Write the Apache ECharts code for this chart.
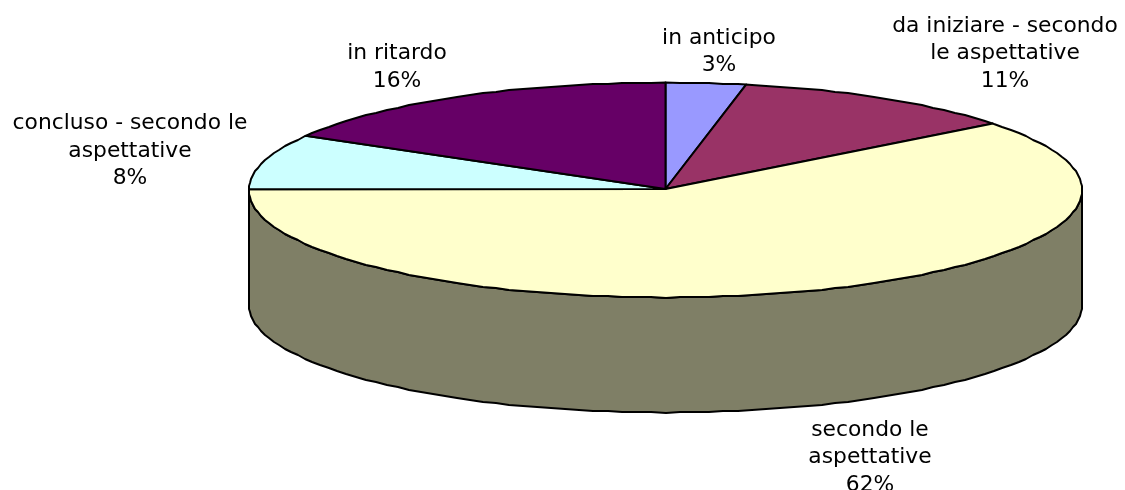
<!DOCTYPE html>
<html>
<head>
<meta charset="utf-8">
<style>html,body{margin:0;padding:0;background:#fff}#c{width:1125px;height:490px}</style>
<script src="https://cdn.jsdelivr.net/npm/echarts@6/dist/echarts.min.js"></script>
</head>
<body>
<div id="c"></div>
<script>
const categories = ['in anticipo', 'da iniziare - secondo\nle aspettative', 'secondo le\naspettative', 'concluso - secondo le\naspettative', 'in ritardo'];
const percentLabels = ['3%', '11%', '62%', '8%', '16%'];
const values = [3.1, 11.3, 60.7, 8.3, 16.6];
const colors = ['#9999FF', '#993366', '#FFFFCC', '#CCFFFF', '#660066'];
const wallColor = '#7F7F66';

const geom = { cx: 665.5, cy: 190, rx: 416.5, ry: 107.5, depth: 115 };
const labelCenters = [[719, 24.5], [1005, 12.5], [870, 416.5], [130, 110], [397, 40]];
const font = '21.8px "DejaVu Sans", Verdana, sans-serif';

const total = values.reduce((a, b) => a + b, 0);
const starts = [];
values.reduce((acc, v, i) => { starts[i] = acc; return acc + v; }, 0);
const toDeg = v => v / total * 360;
const GRID = 1;
const snap = v => Math.round(v / GRID) * GRID;
function pt(deg, dy) {
  const a = deg * Math.PI / 180;
  return [geom.cx + geom.rx * Math.sin(a), geom.cy - geom.ry * Math.cos(a) + (dy || 0)];
}
// The outline of the reference is slightly stepped, so points on the rim sit on a whole-pixel grid.
function arc(from, to, dy) {
  const out = [pt(from, dy)];
  const STEP = 2;
  let d = Math.ceil(from / STEP) * STEP;
  for (; d < to; d += STEP) {
    if (d > from) { const p = pt(d, dy); out.push([snap(p[0]), snap(p[1])]); }
  }
  out.push(pt(to, dy));
  return out;
}
const lineStyle = { stroke: '#000', lineWidth: 2, lineJoin: 'round' };

const option = {
  animation: false,
  backgroundColor: '#fff',
  series: [
    {
      type: 'custom', coordinateSystem: 'none', silent: true, z: 1,
      data: [total],
      renderItem() {
        const top = arc(90, 270);
        const bottom = arc(90, 270, geom.depth).reverse();
        return { type: 'polygon', shape: { points: top.concat(bottom) },
          style: Object.assign({ fill: wallColor }, lineStyle) };
      }
    },
    {
      type: 'custom', coordinateSystem: 'none', silent: true, z: 2,
      data: values.map((v, i) => [i, v]),
      renderItem(params, api) {
        const i = api.value(0);
        const s = toDeg(starts[i]), e = s + toDeg(api.value(1));
        return { type: 'polygon', shape: { points: [[geom.cx, geom.cy - 1]].concat(arc(s, e)) },
          style: Object.assign({ fill: colors[i] }, lineStyle) };
      }
    },
    {
      type: 'custom', coordinateSystem: 'none', silent: true, z: 3,
      data: categories.map((c, i) => [i]),
      renderItem(params, api) {
        const i = api.value(0);
        return { type: 'text', x: labelCenters[i][0], y: labelCenters[i][1],
          style: { text: categories[i] + '\n' + percentLabels[i], font, fill: '#000',
            align: 'center', verticalAlign: 'top', lineHeight: 27.5 } };
      }
    }
  ]
};
echarts.init(document.getElementById('c'), null, { renderer: 'canvas' }).setOption(option);
</script>
</body>
</html>
